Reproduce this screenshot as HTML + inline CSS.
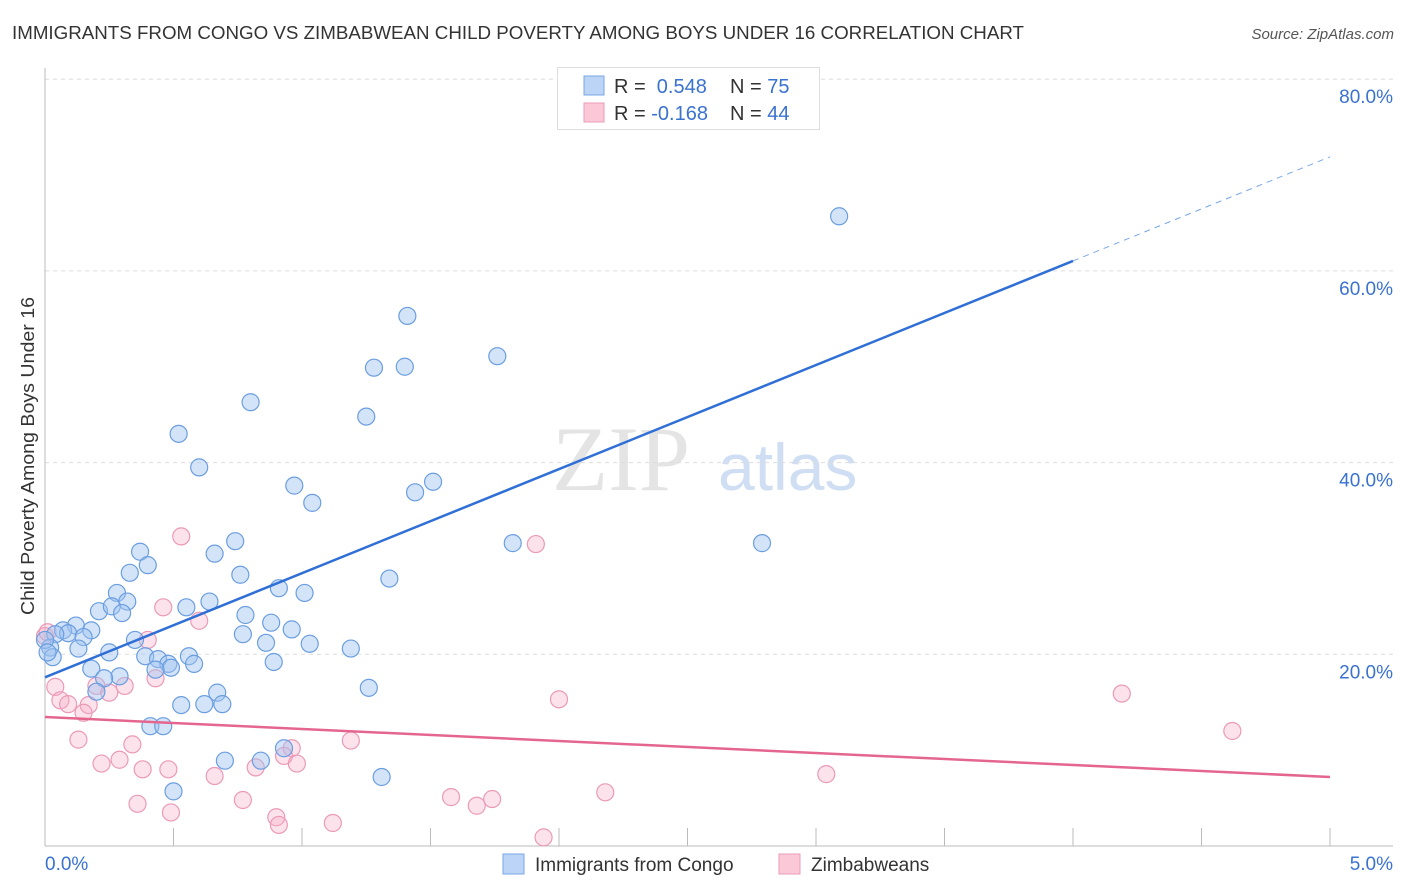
<!DOCTYPE html>
<html><head><meta charset="utf-8"><style>
body{margin:0;background:#fff;font-family:"Liberation Sans",sans-serif;}
svg{display:block}
</style></head><body>
<svg id="chart" width="1406" height="892">
<text x="12" y="39" font-size="18" fill="#333" textLength="1012" lengthAdjust="spacingAndGlyphs">IMMIGRANTS FROM CONGO VS ZIMBABWEAN CHILD POVERTY AMONG BOYS UNDER 16 CORRELATION CHART</text>
<text x="1394" y="39" font-size="15" fill="#555" font-style="italic" text-anchor="end">Source: ZipAtlas.com</text>
<g><text x="552" y="490" font-size="92" font-family="Liberation Serif,serif" fill="#e4e4e4">ZIP</text><text x="718" y="490" font-size="66" fill="#cfdef3">atlas</text></g>
<g id="grid"></g><g id="axes"></g><g id="marks"></g>
<text transform="translate(34,456) rotate(-90)" font-size="18" fill="#333" text-anchor="middle" textLength="318" lengthAdjust="spacingAndGlyphs">Child Poverty Among Boys Under 16</text>
<g>
<rect x="557.5" y="67.5" width="262" height="62" fill="#fff" stroke="#ddd"/>
<rect x="584" y="76" width="20" height="19" fill="#bcd4f5" stroke="#7aa6e6"/>
<rect x="584" y="103" width="20" height="19" fill="#fbc8d8" stroke="#ee9bb8"/>
<text x="614" y="93" font-size="20" fill="#333">R = <tspan fill="#3a72d0">&#160;0.548</tspan><tspan x="730">N = </tspan><tspan fill="#3a72d0">75</tspan></text>
<text x="614" y="120" font-size="20" fill="#333">R = <tspan fill="#3a72d0">-0.168</tspan><tspan x="730">N = </tspan><tspan fill="#3a72d0">44</tspan></text>
</g>
<g>
<rect x="503" y="854" width="21" height="20" fill="#bcd4f5" stroke="#7aa6e6"/>
<text x="535" y="871" font-size="19" fill="#333">Immigrants from Congo</text>
<rect x="779" y="854" width="21" height="20" fill="#fbc8d8" stroke="#ee9bb8"/>
<text x="811" y="871" font-size="19" fill="#333">Zimbabweans</text>
</g>
</svg>
<script>
const blueX=[3.09,1.41,1.76,1.28,1.40,0.80,1.25,0.52,0.60,1.51,0.97,1.44,1.04,1.82,2.79,0.74,0.66,0.37,0.40,0.33,0.76,1.34,0.28,0.91,1.01,0.64,0.32,0.55,0.21,0.26,0.30,0.78,0.88,0.12,0.07,0.18,0.09,0.04,0.15,0.96,0.77,0.86,0.35,1.03,1.19,0.13,0.25,0.02,0.03,0.39,0.44,0.56,0.89,0.58,0.48,0.49,0.43,0.18,0.29,0.23,0.20,0.67,0.53,0.62,0.69,1.26,0.41,0.46,0.93,0.84,0.70,1.31,0.50,0.00,0.01];
const blueY=[65.7,55.3,51.1,49.9,50.0,46.3,44.8,43.0,39.5,38.0,37.6,36.9,35.8,31.6,31.6,31.8,30.5,30.7,29.3,28.5,28.3,27.9,26.4,26.9,26.4,25.5,25.5,24.9,24.5,25.0,24.3,24.1,23.3,23.0,22.5,22.5,22.2,22.1,21.8,22.6,22.1,21.2,21.5,21.1,20.6,20.6,20.2,20.7,19.7,19.8,19.5,19.8,19.2,19.0,19.0,18.6,18.4,18.5,17.7,17.5,16.1,16.0,14.7,14.8,14.8,16.5,12.5,12.5,10.2,8.9,8.9,7.2,5.7,21.5,20.2];
const pinkX=[0.53,1.91,0.46,0.60,0.40,0.00,0.43,0.31,0.04,0.20,0.25,0.06,0.09,0.17,0.15,2.00,4.19,4.62,0.13,0.34,0.96,1.19,0.93,0.22,0.29,0.98,0.38,0.48,0.82,0.66,3.04,0.77,0.36,0.49,1.58,1.74,2.18,0.90,0.91,1.12,1.68,1.94,0.01];
const pinkY=[32.3,31.5,24.9,23.5,21.5,21.9,17.5,16.7,16.6,16.7,16.0,15.2,14.8,14.7,13.9,15.3,15.9,12.0,11.1,10.6,10.2,11.0,9.4,8.6,9.0,8.6,8.0,8.0,8.2,7.3,7.5,4.8,4.4,3.5,5.1,4.9,5.6,3.0,2.2,2.4,4.2,0.9,22.3];
const blueTrend=[17.6,71.9]; const blueSolidEnd=4.0;
const pinkTrend=[13.46,7.2];
const yTicks=[20,40,60,80];
const xTickLabels=["0.0%","5.0%"];

const NS="http://www.w3.org/2000/svg";
const X=v=>45+v/5*1285, Y=v=>846-v/20*191.7;
function mk(tag,attrs,parent){const e=document.createElementNS(NS,tag);for(const k in attrs)e.setAttribute(k,attrs[k]);document.getElementById(parent).appendChild(e);return e;}
yTicks.forEach(t=>{
  const l=mk('line',{x1:45,x2:1393,y1:Y(t),y2:Y(t),stroke:'#ddd','stroke-dasharray':'4,4'},'grid');
  
  
  const tx=mk('text',{x:1393,y:Y(t)+24,'font-size':19,fill:'#3a72d0','text-anchor':'end'},'grid');
  tx.textContent=t.toFixed(1)+'%';
  
  
});
const ax=mk('line',{x1:45,x2:45,y1:68,y2:846,stroke:'#bbb'},'axes');


const bx=mk('line',{x1:45,x2:1393,y1:846,y2:846,stroke:'#bbb'},'axes');


for(let i=1;i<=10;i++){
  const t=mk('line',{x1:X(i*0.5),x2:X(i*0.5),y1:828,y2:846,stroke:'#bbb'},'axes');
  
  
}
[[0,'start',45],[1,'end',1393]].forEach(([i,a,x])=>{
  const t=mk('text',{x:x,y:870,'font-size':19,fill:'#3a72d0','text-anchor':a},'axes');
  t.textContent=xTickLabels[i];
  
  
});
pinkX.forEach((v,i)=>{
  const c=mk('circle',{cx:X(v),cy:Y(pinkY[i]),r:8.5,fill:'rgba(246,172,198,0.35)',stroke:'#eb9ab7','stroke-width':1.2},'marks');
  
  
});
blueX.forEach((v,i)=>{
  const c=mk('circle',{cx:X(v),cy:Y(blueY[i]),r:8.5,fill:'rgba(160,196,240,0.45)',stroke:'#6b9ee0','stroke-width':1.2},'marks');
  
  
});
const bAt=x=>blueTrend[0]+(blueTrend[1]-blueTrend[0])*x/5;
const bl=mk('line',{x1:X(0),y1:Y(bAt(0)),x2:X(blueSolidEnd),y2:Y(bAt(blueSolidEnd)),stroke:'#2f6fd6','stroke-width':2.5},'marks');


const bd=mk('line',{x1:X(blueSolidEnd),y1:Y(bAt(blueSolidEnd)),x2:X(5),y2:Y(bAt(5)),stroke:'#7aa6e6','stroke-width':1,'stroke-dasharray':'6,5'},'marks');


const pl=mk('line',{x1:X(0),y1:Y(pinkTrend[0]),x2:X(5),y2:Y(pinkTrend[1]),stroke:'#e4668f','stroke-width':2.5},'marks');


</script>
</body></html>
